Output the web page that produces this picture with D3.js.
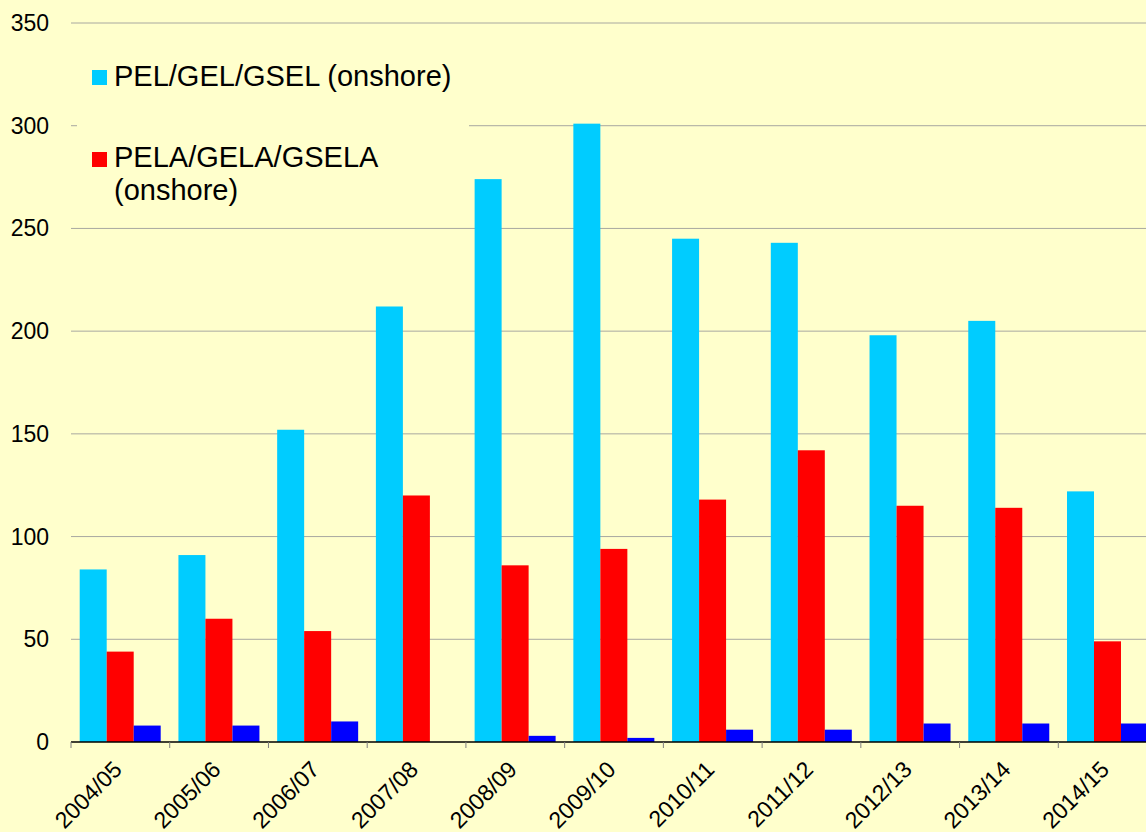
<!DOCTYPE html>
<html>
<head>
<meta charset="utf-8">
<script src="https://cdn.jsdelivr.net/npm/d3@7"></script>
<style>
  body { margin: 0; background: #FFFFCC; }
  svg { display: block; font-family: "Liberation Sans", Arial, sans-serif; }
</style>
</head>
<body>
<div id="chart"></div>
<script>
// licence counts per financial year
const years = ["2004/05", "2005/06", "2006/07", "2007/08", "2008/09", "2009/10",
               "2010/11", "2011/12", "2012/13", "2013/14", "2014/15"];
const pelOnshore  = [84, 91, 152, 212, 274, 301, 245, 243, 198, 205, 122];
const pelaOnshore = [44, 60, 54, 120, 86, 94, 118, 142, 115, 114, 49];
const offshore    = [8, 8, 10, 0, 3, 2, 6, 6, 9, 9, 9];
const yTicks = [0, 50, 100, 150, 200, 250, 300, 350];

const seriesNames = ["PEL/GEL/GSEL (onshore)", "PELA/GELA/GSELA (onshore)", "offshore"];
const colors = ["#00CCFF", "#FF0000", "#0000FF"];

const width = 1146, height = 832;
const plotLeft = 71, plotBottom = 742, plotTop = 23;

const svg = d3.select("#chart").append("svg")
    .attr("width", width)
    .attr("height", height);

svg.append("rect")
    .attr("width", width).attr("height", height)
    .attr("fill", "#FFFFCC");

const x = d3.scaleBand()
    .domain(years)
    .range([plotLeft, plotLeft + 11 * 98.73]);

const xSub = d3.scaleBand()
    .domain(d3.range(3))
    .range([8.7, 8.7 + 81]);

const y = d3.scaleLinear()
    .domain([0, 350])
    .range([plotBottom, plotTop]);

// gridlines
svg.append("g")
    .selectAll("line")
    .data(yTicks.filter(d => d > 0))
    .join("line")
    .attr("x1", plotLeft).attr("x2", width)
    .attr("y1", d => y(d)).attr("y2", d => y(d))
    .attr("stroke", "#a8a8a0")
    .attr("stroke-width", 1);

// y labels
svg.append("g")
    .selectAll("text")
    .data(yTicks)
    .join("text")
    .attr("x", 49)
    .attr("y", d => y(d))
    .attr("dy", "0.35em")
    .attr("text-anchor", "end")
    .attr("font-size", 23)
    .attr("fill", "#000")
    .text(d => d);

// bars
const table = years.map((yr, i) => ({
    year: yr,
    values: [pelOnshore[i], pelaOnshore[i], offshore[i]]
}));

const groups = svg.append("g")
    .selectAll("g")
    .data(table)
    .join("g")
    .attr("transform", d => `translate(${x(d.year)},0)`);

groups.selectAll("rect")
    .data(d => d.values.map((v, k) => ({ v, k })))
    .join("rect")
    .attr("x", d => xSub(d.k))
    .attr("width", xSub.bandwidth())
    .attr("y", d => y(d.v))
    .attr("height", d => plotBottom - y(d.v))
    .attr("fill", d => colors[d.k]);

// x axis
const xAxis = svg.append("g")
    .attr("transform", `translate(0,${plotBottom})`);

xAxis.append("line")
    .attr("x1", plotLeft).attr("x2", width)
    .attr("stroke", "#000").attr("stroke-width", 1.5);

xAxis.selectAll(".tick")
    .data(years)
    .join("line")
    .attr("class", "tick")
    .attr("x1", d => x(d)).attr("x2", d => x(d))
    .attr("y1", 0).attr("y2", 6)
    .attr("stroke", "#808080");

xAxis.selectAll(".lbl")
    .data(years)
    .join("text")
    .attr("class", "lbl")
    .attr("text-anchor", "end")
    .attr("font-size", 23)
    .attr("transform", d => `translate(${x(d) + x.bandwidth() / 2 + 3},${29}) rotate(-45)`)
    .text(d => d);

// legend (covers the gridlines behind it)
const legend = svg.append("g");
legend.append("rect")
    .attr("x", 77).attr("y", 40)
    .attr("width", 392).attr("height", 178)
    .attr("fill", "#FFFFCC");

legend.append("rect")
    .attr("x", 92).attr("y", 70).attr("width", 15).attr("height", 15)
    .attr("fill", colors[0]);
legend.append("text")
    .attr("x", 114).attr("y", 86)
    .attr("font-size", 29)
    .text(seriesNames[0]);

legend.append("rect")
    .attr("x", 92).attr("y", 152).attr("width", 15).attr("height", 15)
    .attr("fill", colors[1]);
legend.append("text")
    .attr("x", 114).attr("y", 167)
    .attr("font-size", 29)
    .text("PELA/GELA/GSELA");
legend.append("text")
    .attr("x", 114).attr("y", 200)
    .attr("font-size", 29)
    .text("(onshore)");
</script>
</body>
</html>
